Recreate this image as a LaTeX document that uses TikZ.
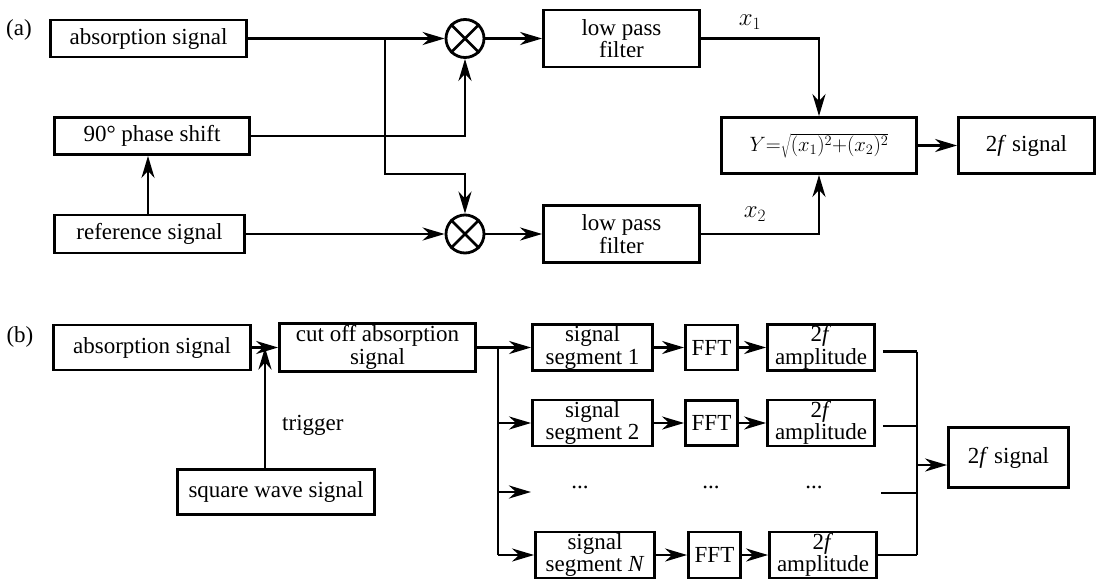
\documentclass[tikz,border=0pt]{standalone}
\usepackage{fontspec}
\setmainfont{Liberation Serif}
\usetikzlibrary{arrows.meta,calc}
\begin{document}
\begin{tikzpicture}[x=1pt,y=-1pt,
  every node/.style={font=\fontsize{23}{22.5}\selectfont},
  box/.style={draw, line width=2.8pt, inner sep=0pt, align=center},
  mul/.style={draw, circle, line width=2.8pt, minimum size=38pt, inner sep=0pt},
  conn/.style={line width=2.8pt},
  arr/.style={conn, -{Stealth[length=22pt,width=13pt,inset=7pt]}},
  lbl/.style={inner sep=0pt}]
\useasboundingbox (0,0) rectangle (1103,584);

% ---------------- (a) ----------------
\node[lbl] (la) at (19,30) {(a)};
\node[box, minimum width=196pt, minimum height=37pt] (absA) at (148.5,38.5) {absorption signal};
\node[box, minimum width=195pt, minimum height=37pt] (phase) at (152,136) {90° phase shift};
\node[box, minimum width=190pt, minimum height=38pt] (ref) at (149.5,234) {reference signal};
\node[mul] (mul1) at (465,38.5) {};
\node[mul] (mul2) at (465,234) {};
\draw[conn] (mul1.45) -- (mul1.225) (mul1.135) -- (mul1.315);
\draw[conn] (mul2.45) -- (mul2.225) (mul2.135) -- (mul2.315);
\node[box, minimum width=156pt, minimum height=57pt] (lpf1) at (621.5,38.5) {low pass\\filter};
\node[box, minimum width=156pt, minimum height=57pt] (lpf2) at (621.5,234) {low pass\\filter};
\node[box, minimum width=195pt, minimum height=56pt, font=\fontsize{20.74}{22}\selectfont] (Ybox) at (819,145.5) {$Y{=}\sqrt{(x_1)^2{+}(x_2)^2}$};
\node[box, minimum width=136pt, minimum height=56pt] (sigA) at (1026.5,145.5) {2\textit{f} signal};
\node[lbl] (x1) at (750,22) {$x_1$};
\node[lbl] (x2) at (755,214) {$x_2$};

\coordinate (brA) at (385,38.5);
\coordinate (kA) at (385,174);
\draw[arr] (absA.east) -- (mul1.west);
\draw[arr] (brA) -- (kA) -| (mul2.north);
\draw[arr] (phase.east) -| (mul1.south);
\draw[arr] (ref.east) -- (mul2.west);
\draw[arr] (ref.north -| 148,0) -- (148,0 |- phase.south);
\draw[arr] (mul1.east) -- (lpf1.west);
\draw[arr] (mul2.east) -- (lpf2.west);
\draw[arr] (lpf1.east) -| (Ybox.north);
\draw[arr] (lpf2.east) -| (Ybox.south);
\draw[arr] (Ybox.east) -- (sigA.west);

% ---------------- (b) ----------------
\node[lbl] (lb) at (20,337) {(b)};
\node[box, minimum width=197pt, minimum height=45pt] (absB) at (152,347.5) {absorption signal};
\node[box, minimum width=196pt, minimum height=48pt] (cut) at (377.5,347.5) {cut off absorption\\signal};
\node[box, minimum width=197pt, minimum height=45pt] (square) at (276,492) {square wave signal};
\node[lbl, anchor=west] (trig) at (282,425) {trigger};

\node[box, minimum width=120pt, minimum height=46pt] (seg1) at (592.5,347.5) {signal\\segment 1};
\node[box, minimum width=120pt, minimum height=46pt] (seg2) at (592.5,423) {signal\\segment 2};
\node[box, minimum width=119pt, minimum height=46pt] (segN) at (595,555) {signal\\segment \textit{N}};
\node[box, minimum width=52pt, minimum height=45pt] (fft1) at (711.5,347.5) {FFT};
\node[box, minimum width=52pt, minimum height=45pt] (fft2) at (711.5,423) {FFT};
\node[box, minimum width=52pt, minimum height=46pt] (fftN) at (714.5,555) {FFT};
\node[box, minimum width=107pt, minimum height=46pt] (amp1) at (821,347.5) {2\textit{f}\\amplitude};
\node[box, minimum width=107pt, minimum height=46pt] (amp2) at (821,423) {2\textit{f}\\amplitude};
\node[box, minimum width=107pt, minimum height=46pt] (ampN) at (823,555) {2\textit{f}\\amplitude};
\node[box, minimum width=120pt, minimum height=60pt] (sigB) at (1008.5,457.5) {2\textit{f} signal};
\node[lbl] (d1) at (580,487) {...};
\node[lbl] (d2) at (711,487) {...};
\node[lbl] (d3) at (814,487) {...};

\coordinate (trg) at (265,347.5);
\draw[arr] (absB.east) -- (cut.west);
\draw[arr] (square.north -| trg) -- (trg);

\coordinate (brB) at (498,347.5);
\coordinate (r3) at (531,492);
\draw[conn] (cut.east) -- (brB) -- (brB |- segN.west);
\draw[arr] (brB) -- (seg1.west);
\draw[arr] (brB |- seg2.west) -- (seg2.west);
\draw[arr] (brB |- r3) -- (r3);
\draw[arr] (brB |- segN.west) -- (segN.west);

\draw[arr] (seg1.east) -- (fft1.west);
\draw[arr] (seg2.east) -- (fft2.west);
\draw[arr] (segN.east) -- (fftN.west);
\draw[arr] (fft1.east) -- (amp1.west);
\draw[arr] (fft2.east) -- (amp2.west);
\draw[arr] (fftN.east) -- (ampN.west);

\coordinate (jx) at (917,465);
\coordinate (e3) at (881,493);
\draw[conn] ([xshift=7pt,yshift=-4pt]amp1.east) -- ([yshift=-4pt]amp1.east -| jx);
\draw[conn] ([xshift=7pt,yshift=-3pt]amp2.east) -- ([yshift=-3pt]amp2.east -| jx);
\draw[conn] (e3) -- (e3 -| jx);
\draw[conn] (ampN.east) -- (ampN.east -| jx);
\draw[conn] ([yshift=-4pt]amp1.east -| jx) -- (ampN.east -| jx);
\draw[arr] (jx) -- (jx -| sigB.west);
\end{tikzpicture}
\end{document}
